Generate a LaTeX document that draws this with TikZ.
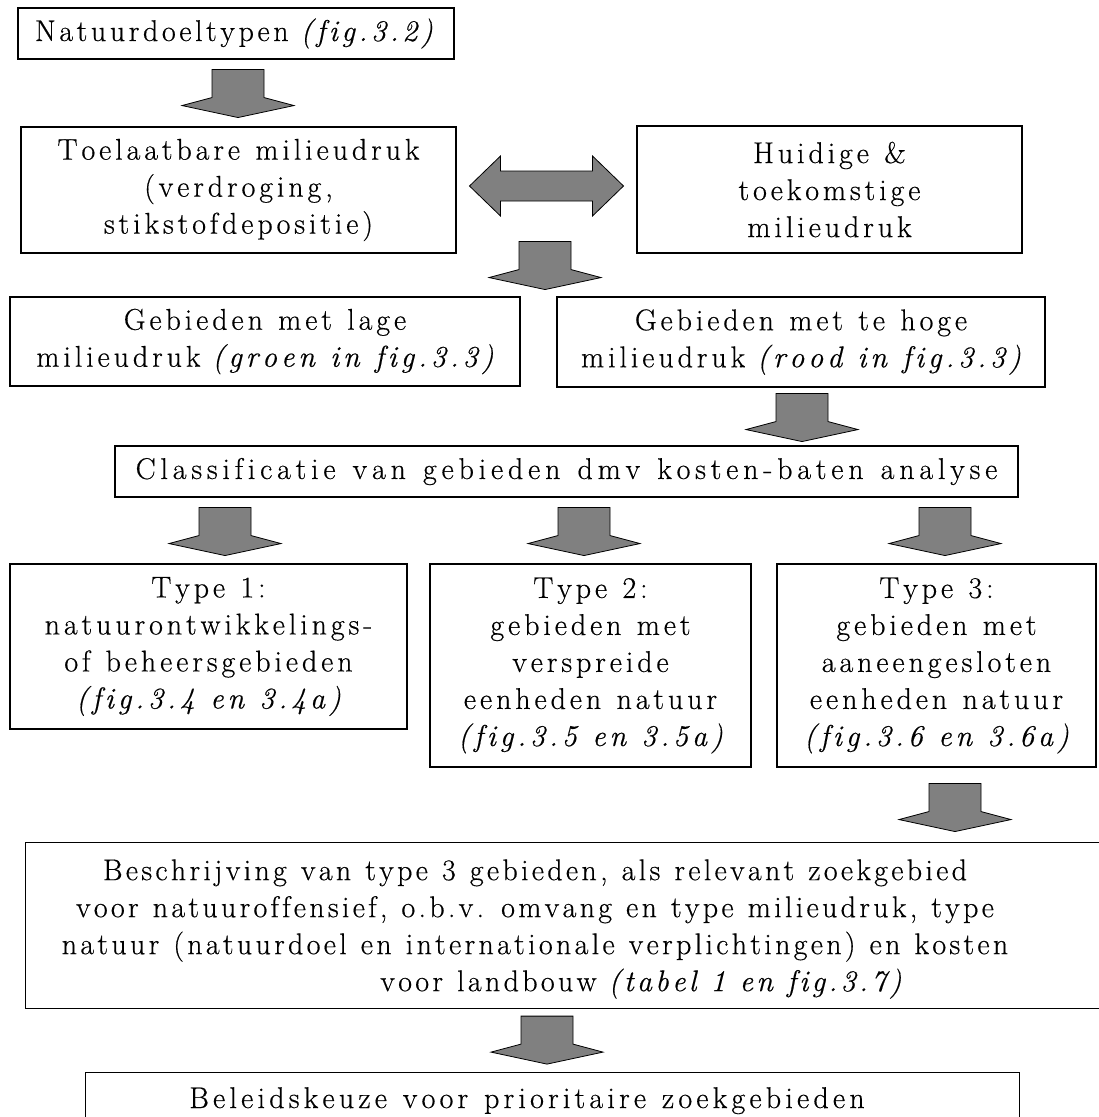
\documentclass[tikz,border=0pt]{standalone}
\usepackage{fontspec}
\setmainfont{Latin Modern Roman}[FakeBold=0.45]
\usetikzlibrary{calc}
\definecolor{arrowgray}{HTML}{808080}
\newcommand{\gap}{\hspace{12pt}}
% expanded letter spacing: a skip between any two printable characters
\newcount\lscount
\lscount=33
\loop
  \XeTeXcharclass\lscount=10
  \ifnum\lscount<126 \advance\lscount by 1
\repeat
\def\lsk{0.15em}
\XeTeXinterchartoks 10 10 = {\hskip\lsk\relax}
\newcommand{\spacedtext}[1]{\def\lsk{#1}%
  \spaceskip=\dimexpr0.25em+#1+#1\relax\XeTeXinterchartokenstate=1 }
\begin{document}
\begin{tikzpicture}[x=1pt,y=-1pt,
  txt/.style={inner sep=0pt, align=center,
    font=\rmfamily\upshape\mdseries\fontsize{30}{37}\selectfont\spacedtext{#1}},
  txt/.default=0.13em,
  box/.style={txt=#1, draw=black, line width=1.1pt, fill=white},
  box/.default=0.13em,
  frame/.style={draw=black, line width=1.1pt, inner sep=0pt},
  blockarrow/.style={draw=black, line width=0.8pt, fill=arrowgray, line join=miter},
  pics/downarrow/.style={code={
    \draw[blockarrow] (-26,0) -- (26,0) -- (26,28) -- (56,36) -- (0,48)
      -- (-56,36) -- (-26,28) -- cycle;
  }},
  pics/twowayarrow/.style={code={
    \draw[blockarrow] (-77,0) -- (-46,-30) -- (-46,-15) -- (46,-15) -- (46,-30)
      -- (77,0) -- (46,30) -- (46,15) -- (-46,15) -- (-46,30) -- cycle;
  }},
]
\useasboundingbox[fill=white] (0,0) rectangle (1099,1117);

% boxes
\node[box=0.12em, minimum width=436pt, minimum height=51pt]
  (n1) at (236,33.5) {\makebox[402pt][l]{Natuurdoeltypen\gap\textit{(fig.3.2)}}};
\node[box, minimum width=435pt, minimum height=126pt]
  (n2) at (238.5,190) {Toelaatbare milieudruk\\(verdroging,\\stikstofdepositie)};
\node[box, minimum width=385pt, minimum height=127pt]
  (n3) at (829.5,189.5) {Huidige \&\\toekomstige\\milieudruk};
\node[box, minimum width=510pt, minimum height=89pt]
  (n4) at (265,341.5) {Gebieden met lage\\milieudruk\gap\textit{(groen in fig.3.3)}};
\node[box, minimum width=488pt, minimum height=90pt]
  (n5) at (801,342) {Gebieden met te hoge\\milieudruk\gap\textit{(rood in fig.3.3)}};
\node[box=0.16em, minimum width=903pt, minimum height=51pt]
  (n6) at (566.5,471.5) {Classificatie van gebieden dmv kosten-baten analyse};
\node[box, minimum width=397pt, minimum height=165pt]
  (t1) at (208.5,646.5) {Type 1:\\natuurontwikkelings-\\of beheersgebieden\\\textit{(fig.3.4 en 3.4a)}};
\node[box, minimum width=321pt, minimum height=203pt]
  (t2) at (590.5,665.5) {Type 2:\\gebieden met\\verspreide\\eenheden natuur\\\textit{(fig.3.5 en 3.5a)}};
\node[box, minimum width=319pt, minimum height=203pt]
  (t3) at (936.5,665.5) {Type 3:\\gebieden met\\aaneengesloten\\eenheden natuur\\\textit{(fig.3.6 en 3.6a)}};

\node[frame, minimum width=1085pt, minimum height=166pt, anchor=north west]
  (n7) at (25,842) {};
\node[txt=0.11em] (n7text) at (535,929) {Beschrijving van type 3 gebieden, als relevant zoekgebied\\
  voor natuuroffensief, o.b.v. omvang en type milieudruk, type\\
  natuur (natuurdoel en internationale verplichtingen) en kosten\\
  \hspace*{212pt}voor landbouw\gap\textit{(tabel 1 en fig.3.7)}};

\node[frame, minimum width=934pt, minimum height=70pt, anchor=north west]
  (n8) at (85,1072) {};
\node[txt=0.14em, anchor=base] (n8text) at (527,1108) {Beleidskeuze voor prioritaire zoekgebieden};

% block arrows between the boxes
\pic at ($(n1.south -| 238,0)+(0,10)$) {downarrow};
\path let \p1=($(n2.east)!0.5!(n3.west)$) in coordinate (mid23) at (\x1,186);
\pic at (mid23) {twowayarrow};
\pic at ($(n2.south -| 545,0)+(0,-12)$) {downarrow};
\pic at ($(n5.south -| 802,0)+(0,6)$) {downarrow};
\pic at ($(n6.south -| 225,0)+(0,10)$) {downarrow};
\pic at ($(n6.south -| 584,0)+(0,10)$) {downarrow};
\pic at ($(n6.south -| 945,0)+(0,10)$) {downarrow};
\pic at ($(t3.south -| 955,0)+(0,16)$) {downarrow};
\pic at ($(n7.south -| 547,0)+(0,7)$) {downarrow};
\end{tikzpicture}
\end{document}
